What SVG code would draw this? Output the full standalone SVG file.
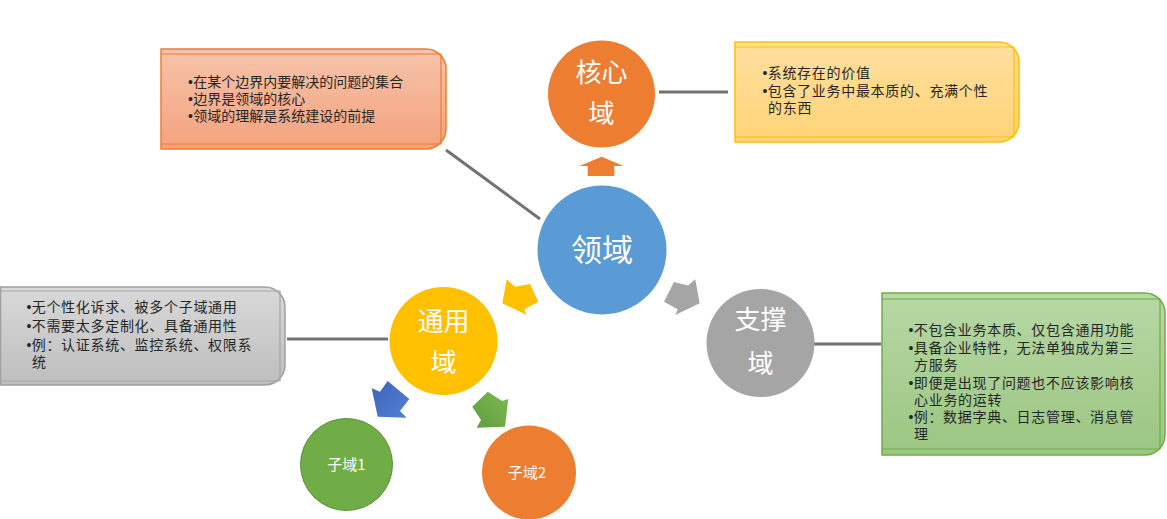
<svg xmlns="http://www.w3.org/2000/svg" width="1167" height="519" viewBox="0 0 1167 519">
<defs>
<linearGradient id="gOr" x1="0" y1="0" x2="0" y2="1"><stop offset="0" stop-color="#F6C4AB"/><stop offset="1" stop-color="#F4A27D"/></linearGradient>
<linearGradient id="gYe" x1="0" y1="0" x2="0" y2="1"><stop offset="0" stop-color="#FFDF9F"/><stop offset="1" stop-color="#FFD478"/></linearGradient>
<linearGradient id="gGr" x1="0" y1="0" x2="0" y2="1"><stop offset="0" stop-color="#D9D9D9"/><stop offset="1" stop-color="#BEBEBE"/></linearGradient>
<linearGradient id="gGn" x1="0" y1="0" x2="0" y2="1"><stop offset="0" stop-color="#B8D8A5"/><stop offset="1" stop-color="#9BC682"/></linearGradient>
<linearGradient id="gBlueA" x1="0" y1="0" x2="1" y2="1"><stop offset="0" stop-color="#3A65C0"/><stop offset="1" stop-color="#5580D0"/></linearGradient>
<linearGradient id="gGreenA" x1="0" y1="1" x2="1" y2="0"><stop offset="0" stop-color="#5E9C3A"/><stop offset="1" stop-color="#7DBA55"/></linearGradient>
</defs>
<style>
.t{font-family:"Noto Sans CJK SC","Microsoft YaHei",sans-serif;fill:#262626;font-size:14px}
.w{letter-spacing:0.7px}
.b{font-family:"Liberation Sans",Arial,sans-serif;letter-spacing:0.3px}
.c{font-family:"Noto Sans CJK SC","Microsoft YaHei",sans-serif;fill:#ffffff;text-anchor:middle}
.conn{stroke:#767171;stroke-width:3;fill:none}
.inner{fill:none;stroke-width:1.2}
</style>

<g id="connectors">
<line class="conn" x1="446" y1="150" x2="540" y2="219"/>
<line class="conn" x1="659" y1="92" x2="728" y2="92"/>
<line class="conn" x1="287" y1="339" x2="388" y2="339"/>
<line class="conn" x1="814" y1="344" x2="881" y2="344"/>
<polygon points="601.7,156.7 623.3,166 614.3,166 614.3,176 587.7,176 587.7,166 579.3,166" fill="#ED7D31"/>
<polygon points="506.7,279.3 502.3,303.3 526.7,315 524.3,309.3 538.3,301.7 530,284 515,286.7" fill="#FFC000"/>
<polygon points="695.3,279.3 699.7,303.3 675.3,315 677.7,309.3 664,301.7 674,282 688,285.5" fill="#A5A5A5"/>
<polygon points="371.7,388.3 377.7,416.7 406.7,417.7 400,411 409.3,399 387.7,381 380,391.7" fill="url(#gBlueA)"/>
<polygon points="487.7,391.7 502.3,401 508.3,399 505,426.7 476.7,427.7 481,420 472.3,406.7" fill="url(#gGreenA)"/>
</g>

<g id="box-domain-desc">
<path d="M161,49 H426 A20,20 0 0 1 446,69 V129 A20,20 0 0 1 426,149 H161 Z" fill="url(#gOr)" stroke="#ED7D31" stroke-width="1.5"/>
<path class="inner" d="M161,54 H441 V144 H161" stroke="#ED7D31"/>
<text class="t" x="188" y="87"><tspan class="b">•</tspan>在某个边界内要解决的问题的集合</text>
<text class="t" x="188" y="104"><tspan class="b">•</tspan>边界是领域的核心</text>
<text class="t" x="188" y="121"><tspan class="b">•</tspan>领域的理解是系统建设的前提</text>
</g>

<g id="box-core-desc">
<path d="M735,42 H999 A20,20 0 0 1 1019,62 V122 A20,20 0 0 1 999,142 H735 Z" fill="url(#gYe)" stroke="#FFC000" stroke-width="1.5"/>
<path class="inner" d="M735,47 H1014 V137 H735" stroke="#FFC000"/>
<text class="t w" x="762.5" y="78"><tspan class="b">•</tspan>系统存在的价值</text>
<text class="t w" x="762.5" y="96"><tspan class="b">•</tspan>包含了业务中最本质的、充满个性</text>
<text class="t w" x="768" y="113">的东西</text>
</g>

<g id="box-generic-desc">
<path d="M0.5,287 H265 A20,20 0 0 1 285,307 V365 A20,20 0 0 1 265,385 H0.5 Z" fill="url(#gGr)" stroke="#A0A0A0" stroke-width="1.5"/>
<path class="inner" d="M0,291 H280 V381 H0" stroke="#A5A5A5"/>
<text class="t w" x="26.5" y="312"><tspan class="b">•</tspan>无个性化诉求、被多个子域通用</text>
<text class="t w" x="26.5" y="331"><tspan class="b">•</tspan>不需要太多定制化、具备通用性</text>
<text class="t w" x="26.5" y="350"><tspan class="b">•</tspan>例：认证系统、监控系统、权限系</text>
<text class="t w" x="32" y="367">统</text>
</g>

<g id="box-support-desc">
<path d="M882,293 H1145 A20,20 0 0 1 1165,313 V435 A20,20 0 0 1 1145,455 H882 Z" fill="url(#gGn)" stroke="#70AD47" stroke-width="1.5"/>
<path class="inner" d="M882,299 H1160 V449 H882" stroke="#70AD47"/>
<text class="t w" x="908.5" y="335"><tspan class="b">•</tspan>不包含业务本质、仅包含通用功能</text>
<text class="t w" x="908.5" y="353"><tspan class="b">•</tspan>具备企业特性，无法单独成为第三</text>
<text class="t w" x="914" y="370">方服务</text>
<text class="t w" x="908.5" y="388"><tspan class="b">•</tspan>即便是出现了问题也不应该影响核</text>
<text class="t w" x="914" y="405">心业务的运转</text>
<text class="t w" x="908.5" y="422"><tspan class="b">•</tspan>例：数据字典、日志管理、消息管</text>
<text class="t w" x="914" y="439">理</text>
</g>

<g id="node-core">
<circle cx="601.5" cy="94" r="53.5" fill="#ED7D31"/>
<text class="c" x="601.5" y="82" font-size="26">核心</text>
<text class="c" x="601.5" y="123" font-size="26">域</text>
</g>

<g id="node-domain">
<circle cx="602" cy="250" r="64.5" fill="#5B9BD5"/>
<text class="c" x="602" y="261" font-size="31">领域</text>
</g>

<g id="node-generic">
<circle cx="443.5" cy="341" r="54" fill="#FFC000"/>
<text class="c" x="443.5" y="331" font-size="26">通用</text>
<text class="c" x="443.5" y="372" font-size="26">域</text>
</g>

<g id="node-support">
<circle cx="760.5" cy="343" r="54" fill="#A5A5A5"/>
<text class="c" x="760.5" y="329" font-size="26">支撑</text>
<text class="c" x="760.5" y="373" font-size="26">域</text>
</g>

<g id="node-sub1">
<circle cx="346.5" cy="464.5" r="46" fill="#70AD47" stroke="#5A8F38" stroke-width="1"/>
<text class="c" x="346.5" y="470" font-size="15">子域1</text>
</g>

<g id="node-sub2">
<circle cx="529" cy="472.5" r="47" fill="#ED7D31"/>
<text class="c" x="527" y="478" font-size="15">子域2</text>
</g>
</svg>
